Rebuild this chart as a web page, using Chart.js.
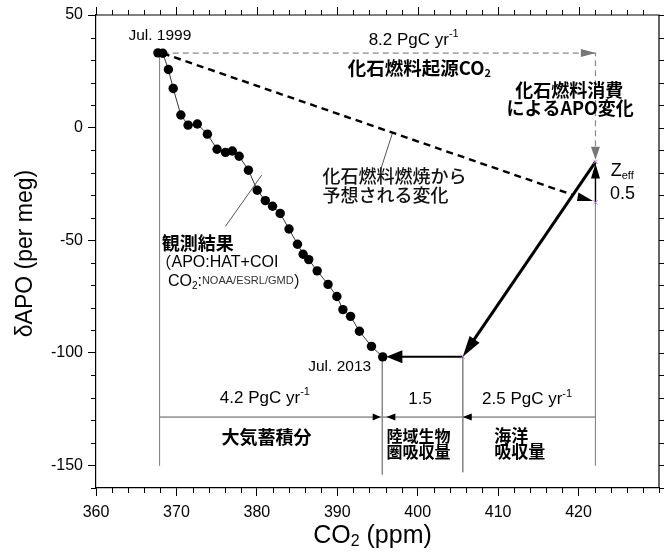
<!DOCTYPE html>
<html><head><meta charset="utf-8">
<script src="https://cdn.jsdelivr.net/npm/chart.js@4/dist/chart.umd.min.js"></script>
<style>html,body{margin:0;padding:0;background:#fff}#wrap{width:667px;height:558px;position:relative}</style>
</head><body><div id="wrap"><canvas id="c"></canvas></div>
<script>
// ---- data ----
const co2Obs = [367.7,368.3,369.0,369.6,370.55,371.45,372.6,373.85,375.05,376.1,376.95,377.8,378.95,380.05,381.05,381.95,382.9,384.0,385.05,385.75,386.45,387.5,388.85,389.95,390.7,391.65,392.75,394.25,395.65];
const apoObs = [33.2,33.0,25.8,17.4,5.6,1.1,1.6,-2.9,-9.6,-11.0,-10.4,-12.7,-18.9,-27.8,-32.4,-34.9,-38.1,-45.0,-51.8,-56.2,-58.6,-63.6,-69.6,-75.0,-80.8,-83.8,-90.4,-97.1,-101.8];
const xTickValues = [360,370,380,390,400,410,420];
const yTickValues = [-150,-100,-50,0,50];
const xRange = [360,430];
const yRange = [-160,50];
// budget geometry (ppm / per meg)
const co2Start = 367.9, co2Obs2013 = 395.6, co2Land = 405.6, co2Fossil = 422.1;
const apoStart = 33.1, apoObs2013 = -101.7, apoExpected = -33.2, apoZeff = -15.2;
const apoBudgetLine = -128.5;
const fluxTotal = '8.2', fluxAtm = '4.2', fluxLand = '1.5', fluxOcean = '2.5', zeffValue = '0.5';

const LAT = '"Liberation Sans", Arial, sans-serif';
const CJK = '"Noto Sans CJK JP", sans-serif';

const pts = co2Obs.map((x,i)=>({x, y: apoObs[i]}));
function seg(a){return a.map(p=>({x:p[0],y:p[1]}));}
function lineDs(data, color, width, dash){
  return {data: seg(data), showLine:true, pointRadius:0, borderColor:color, borderWidth:width, borderDash:dash||[], fill:false, tension:0};
}

const datasets = [
  {data: pts, showLine:true, borderColor:'#333', borderWidth:1, pointRadius:4.7, pointBackgroundColor:'#000', pointBorderColor:'#000', pointBorderWidth:0, tension:0},
  {data: seg([[co2Fossil,apoZeff],[co2Fossil,apoExpected],[co2Land,apoObs2013]]), showLine:false, pointStyle:'crossRot', pointRadius:3, borderColor:'#b784dc', borderWidth:1},
  lineDs([[368.3,33.0],[419.2,-29.8]], '#000', 2.4, [7,5]),
  lineDs([[368.3,apoStart],[co2Fossil,apoStart],[co2Fossil,-14.6]], '#8a8a8a', 1.2, [6,4]),
  lineDs([[co2Fossil,apoZeff],[406.3,-97.8]], '#000', 3),
  lineDs([[co2Land,apoObs2013],[398.0,apoObs2013]], '#000', 2),
  lineDs([[co2Fossil,apoExpected],[co2Fossil,-21]], '#000', 1.4),
  lineDs([[co2Start,apoStart],[co2Start,-150]], '#888', 1),
  lineDs([[co2Obs2013,apoObs2013],[co2Obs2013,-154]], '#888', 1),
  lineDs([[co2Land,apoObs2013],[co2Land,-153]], '#888', 1),
  lineDs([[co2Fossil,apoExpected],[co2Fossil,-150]], '#888', 1),
  lineDs([[co2Start,apoBudgetLine],[co2Fossil,apoBudgetLine]], '#555', 1),
  lineDs([[396.86,-2.4],[395.37,-18.9]], '#555', 1),
  lineDs([[376.1,-43.8],[380.6,-21.1]], '#555', 1),
];

function arrowHead(ctx, tip, from, len, hw, color){
  const dx = tip[0]-from[0], dy = tip[1]-from[1];
  const L = Math.hypot(dx,dy); const ux=dx/L, uy=dy/L;
  const bx = tip[0]-ux*len, by = tip[1]-uy*len;
  ctx.beginPath();
  ctx.moveTo(tip[0],tip[1]);
  ctx.lineTo(bx - uy*hw, by + ux*hw);
  ctx.lineTo(bx + uy*hw, by - ux*hw);
  ctx.closePath(); ctx.fillStyle=color; ctx.fill();
}
function fontOf(p){return (p.b?'bold ':(p.w5?'500 ':''))+p.s+'px '+(p.f||LAT);}
function rich(ctx, x, y, parts, align){
  let w=0;
  parts.forEach(p=>{ctx.font=fontOf(p); p.wd=ctx.measureText(p.t).width; w+=p.wd;});
  let cx = align==='center' ? x-w/2 : (align==='right' ? x-w : x);
  ctx.textAlign='left'; ctx.textBaseline='middle';
  parts.forEach(p=>{ctx.font=fontOf(p); ctx.fillStyle=p.c||'#000'; ctx.fillText(p.t, cx, y+(p.dy||0)); cx+=p.wd;});
}

const decor = {
  id:'decor',
  afterDatasetsDraw(chart){
    const ctx = chart.ctx, xs = chart.scales.x, ys = chart.scales.y;
    const P = (x,y)=>[xs.getPixelForValue(x), ys.getPixelForValue(y)];
    ctx.save();
    // arrowheads
    arrowHead(ctx, P(co2Fossil+0.05,apoStart), P(co2Start,apoStart), 15, 4, '#777');
    arrowHead(ctx, P(co2Fossil,-14.3), P(co2Fossil,apoStart), 13, 4.5, '#777');
    arrowHead(ctx, P(co2Fossil,-15.9), P(co2Fossil,apoExpected), 15, 4.5, '#000');
    arrowHead(ctx, P(co2Land,apoObs2013), P(co2Fossil,apoZeff), 21, 6, '#000');
    arrowHead(ctx, P(396.1,apoObs2013), P(co2Land,apoObs2013), 16, 6.5, '#000');
    // half-arrow at end of expected line
    const e = P(co2Fossil,apoExpected);
    ctx.beginPath(); ctx.moveTo(e[0]-2.5,e[1]-1.5); ctx.lineTo(e[0]-17,e[1]-10); ctx.lineTo(e[0]-18.5,e[1]-1.5); ctx.closePath(); ctx.fillStyle='#000'; ctx.fill();
    // budget arrows
    arrowHead(ctx, P(co2Obs2013-0.2,apoBudgetLine), P(co2Start,apoBudgetLine), 8, 3.5, '#000');
    arrowHead(ctx, P(co2Obs2013+0.5,apoBudgetLine), P(co2Land,apoBudgetLine), 9, 3.5, '#000');
    arrowHead(ctx, P(co2Land,apoBudgetLine), P(co2Fossil,apoBudgetLine), 9, 3.5, '#000');

    // texts
    let q;
    q=P(367.94,40.7); rich(ctx,q[0],q[1],[{t:'Jul. 1999',s:15.5}],'center');
    q=P(399.5,38.9); rich(ctx,q[0],q[1],[{t:fluxTotal+' PgC yr',s:17},{t:'-1',s:11,dy:-6}],'center');
    q=P(400.2,26.4); rich(ctx,q[0],q[1],[{t:'化石燃料起源CO',s:18.5,b:1,f:CJK},{t:'2',s:11,b:1,f:CJK,dy:5}],'center');
    q=P(418.85,16.7); rich(ctx,q[0],q[1],[{t:'化石燃料消費',s:18,b:1,f:CJK}],'center');
    q=P(418.95,8.7); rich(ctx,q[0],q[1],[{t:'によるAPO変化',s:18,b:1,f:CJK}],'center');
    q=P(388.17,-21.5); rich(ctx,q[0],q[1],[{t:'化石燃料燃焼から',s:18,w5:1,f:CJK,c:'#111'}],'left');
    q=P(388.17,-30); rich(ctx,q[0],q[1],[{t:'予想される変化',s:18,w5:1,f:CJK,c:'#111'}],'left');
    q=P(424.0,-19.3); rich(ctx,q[0],q[1],[{t:'Z',s:18},{t:'eff',s:11,dy:5}],'left');
    q=P(423.9,-29.6); rich(ctx,q[0],q[1],[{t:zeffValue,s:18}],'left');
    q=P(368.19,-51.1); rich(ctx,q[0],q[1],[{t:'観測結果',s:18,b:1,f:CJK}],'left');
    q=P(367.4,-59.8); rich(ctx,q[0],q[1],[{t:'（',s:16,f:CJK},{t:'APO:HAT+COI',s:16}],'left');
    q=P(368.94,-68.2); rich(ctx,q[0],q[1],[{t:'CO',s:16},{t:'2',s:10,dy:5},{t:':',s:16},{t:'NOAA/ESRL/GMD',s:11,c:'#333'},{t:'）',s:16,f:CJK}],'left');
    q=P(390.3,-106); rich(ctx,q[0],q[1],[{t:'Jul. 2013',s:15.5}],'center');
    q=P(381.0,-120.2); rich(ctx,q[0],q[1],[{t:fluxAtm+' PgC yr',s:17},{t:'-1',s:11,dy:-6}],'center');
    q=P(400.3,-120.7); rich(ctx,q[0],q[1],[{t:fluxLand,s:17}],'center');
    q=P(413.6,-120.7); rich(ctx,q[0],q[1],[{t:fluxOcean+' PgC yr',s:17},{t:'-1',s:11,dy:-6}],'center');
    q=P(381.2,-137.6); rich(ctx,q[0],q[1],[{t:'大気蓄積分',s:18,b:1,f:CJK}],'center');
    q=P(396.12,-136.7); rich(ctx,q[0],q[1],[{t:'陸域生物',s:16,b:1,f:CJK}],'left');
    q=P(396.12,-143.8); rich(ctx,q[0],q[1],[{t:'圏吸収量',s:16,b:1,f:CJK}],'left');
    q=P(409.52,-136.7); rich(ctx,q[0],q[1],[{t:'海洋',s:17,b:1,f:CJK}],'left');
    q=P(409.52,-143.8); rich(ctx,q[0],q[1],[{t:'吸収量',s:17,b:1,f:CJK}],'left');
    ctx.restore();
  },
  afterDraw(chart){
    const ctx = chart.ctx, xs = chart.scales.x, ys = chart.scales.y, a = chart.chartArea;
    ctx.save();
    ctx.strokeStyle='#000'; ctx.lineWidth=1.2;
    // frame top/right
    ctx.beginPath(); ctx.moveTo(a.left,a.top); ctx.lineTo(a.right,a.top); ctx.lineTo(a.right,a.bottom); ctx.stroke();
    ctx.lineWidth=1;
    ctx.beginPath();
    for(let v=xRange[0]; v<=xRange[1]; v+=2){
      const px = Math.round(xs.getPixelForValue(v))+0.5;
      const major = v%10===0 && v<430;
      if(!major){ ctx.moveTo(px,a.bottom); ctx.lineTo(px,a.bottom+5); }
      if(v<430){ ctx.moveTo(px,a.top); ctx.lineTo(px,a.top-(major?8:5)); }
    }
    for(let v=yRange[0]; v<=yRange[1]; v+=10){
      const py = Math.round(ys.getPixelForValue(v))+0.5;
      if(v%50!==0){ ctx.moveTo(a.left,py); ctx.lineTo(a.left-5,py); }
      ctx.moveTo(a.right,py); ctx.lineTo(a.right+5,py);
    }
    ctx.stroke();
    // axis titles
    ctx.save(); ctx.translate(26, (a.top+a.bottom)/2+2); ctx.rotate(-Math.PI/2);
    rich(ctx,0,0,[{t:'δAPO (per meg)',s:23}],'center');
    ctx.restore();
    rich(ctx,(a.left+a.right)/2-5,536,[{t:'CO',s:25},{t:'2',s:16,dy:6},{t:' (ppm)',s:25}],'center');
    ctx.restore();
  }
};

new Chart(document.getElementById('c'), {
  type:'scatter',
  data:{datasets},
  options:{
    responsive:true, maintainAspectRatio:false, animation:false,
    layout:{padding:{top:15,right:8,left:0,bottom:0}},
    plugins:{legend:{display:false}, tooltip:{enabled:false}},
    scales:{
      x:{type:'linear', min:xRange[0], max:xRange[1],
        afterBuildTicks:s=>{s.ticks = xTickValues.map(v=>({value:v}));},
        afterFit:s=>{s.height=70;},
        ticks:{font:{size:16,family:LAT}, color:'#000', padding:7, maxRotation:0, autoSkip:false},
        grid:{drawOnChartArea:false, drawTicks:true, tickLength:8, color:'#000', tickWidth:1},
        border:{display:true, color:'#000', width:1.2}},
      y:{type:'linear', min:yRange[0], max:yRange[1],
        afterBuildTicks:s=>{s.ticks = yTickValues.map(v=>({value:v}));},
        afterFit:s=>{s.width=96;},
        ticks:{font:{size:16,family:LAT}, color:'#000', padding:5, autoSkip:false},
        grid:{drawOnChartArea:false, drawTicks:true, tickLength:8, color:'#000', tickWidth:1},
        border:{display:true, color:'#000', width:1.2}}
    }
  },
  plugins:[decor]
});
</script></body></html>
